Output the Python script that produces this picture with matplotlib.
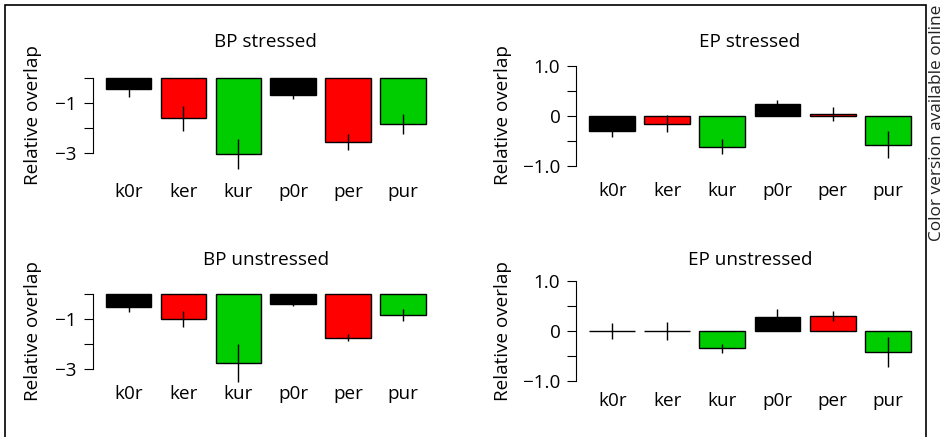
import matplotlib
matplotlib.use('Agg')
import matplotlib.pyplot as plt
from matplotlib.patches import Rectangle

plt.rcParams['font.family'] = ['Open Sans', 'DejaVu Sans']
plt.rcParams['font.size'] = 13.6

groups = ['k0r', 'ker', 'kur', 'p0r', 'per', 'pur']
bar_colors = ['black', '#FF0000', '#00CD00', 'black', '#FF0000', '#00CD00']

bp_stressed = [-0.44, -1.61, -3.05, -0.69, -2.55, -1.83]
bp_stressed_err = [0.31, 0.49, 0.60, 0.13, 0.31, 0.41]
ep_stressed = [-0.31, -0.16, -0.62, 0.23, 0.03, -0.58]
ep_stressed_err = [0.11, 0.17, 0.15, 0.08, 0.14, 0.27]
bp_unstressed = [-0.55, -1.03, -2.77, -0.41, -1.76, -0.85]
bp_unstressed_err = [0.20, 0.32, 0.76, 0.07, 0.15, 0.23]
ep_unstressed = [0.0, 0.0, -0.34, 0.28, 0.30, -0.42]
ep_unstressed_err = [0.155, 0.18, 0.09, 0.16, 0.095, 0.30]

bp_ticks = [0, -1, -2, -3]
bp_ticklabels = ['', '\u22121', '', '\u22123']
ep_ticks = [1.0, 0.5, 0, -0.5, -1.0]
ep_ticklabels = ['1.0', '', '0', '', '\u22121.0']

W, H = 945, 437
FS = 13.6
fig = plt.figure(figsize=(W / 100, H / 100), dpi=100)


def px_rect(left, right, top, bottom):
    return [left / W, 1 - bottom / H, (right - left) / W, (bottom - top) / H]


# (title, values, errors, ticks, labels, ylim, rect, title baseline, xlab baseline, ylab x, ylab y)
panels = [
    ('BP stressed', bp_stressed, bp_stressed_err, bp_ticks, bp_ticklabels, (-3.8, 0.3),
     px_rect(92.9, 438.8, 70.5, 173.0), 47.3, 196.7, 33, 115),
    ('EP stressed', ep_stressed, ep_stressed_err, ep_ticks, ep_ticklabels, (-1.15, 1.15),
     px_rect(576.4, 923.5, 58.2, 173.2), 47.3, 196.0, 503, 115),
    ('BP unstressed', bp_unstressed, bp_unstressed_err, bp_ticks, bp_ticklabels, (-3.8, 0.3),
     px_rect(92.9, 438.8, 286.2, 388.7), 265.3, 399.0, 33, 331),
    ('EP unstressed', ep_unstressed, ep_unstressed_err, ep_ticks, ep_ticklabels, (-1.15, 1.15),
     px_rect(576.4, 923.5, 273.5, 388.5), 265.3, 406.3, 503, 331),
]

xpos = [0.7 + 1.2 * i for i in range(len(groups))]

for title, vals, errs, ticks, tlabels, ylim, rect, t_y, xl_y, yl_x, yl_y in panels:
    ax = fig.add_axes(rect)
    ax.patch.set_alpha(0)
    ax.bar(xpos, vals, width=1.0, color=bar_colors, edgecolor='black', linewidth=1.0, zorder=2)
    ax.vlines(xpos, [v - e for v, e in zip(vals, errs)], [v + e for v, e in zip(vals, errs)],
              color='black', linewidth=1.0, zorder=3, clip_on=False)
    ax.set_xlim(-0.08, 7.48)
    ax.set_ylim(*ylim)
    for s in ['top', 'right', 'bottom']:
        ax.spines[s].set_visible(False)
    ax.spines['left'].set_bounds(min(ticks), max(ticks))
    ax.spines['left'].set_linewidth(0.8)
    ax.set_yticks(ticks)
    ax.set_yticklabels(tlabels)
    ax.tick_params(axis='y', length=6.5, width=0.8, pad=5.0, labelsize=FS)
    ax.set_xticks([])

    cx = (rect[0] + rect[2] / 2)
    fig.text(cx, 1 - t_y / H, title, ha='center', va='baseline', fontsize=FS)
    for x, g in zip(xpos, groups):
        ax.annotate(g, xy=(x, 0), xycoords=('data', 'figure fraction'),
                    xytext=(x, 1 - xl_y / H), textcoords=('data', 'figure fraction'),
                    ha='center', va='baseline', fontsize=FS)
    fig.text(yl_x / W, 1 - yl_y / H, 'Relative overlap', rotation=90,
             ha='center', va='center', fontsize=FS)

# outer frame and side note
fig.patches.append(Rectangle((5.5 / W, -0.05), (926.5 - 5.5) / W, 1.05 - 5 / H,
                             transform=fig.transFigure, fill=False,
                             edgecolor='black', linewidth=1.2))
fig.text(937.5 / W, 1 - 5 / H, 'Color version available online', rotation=90,
         ha='center', va='top', fontsize=12.4, color='#222222')

fig.savefig('out.png', dpi=100)
